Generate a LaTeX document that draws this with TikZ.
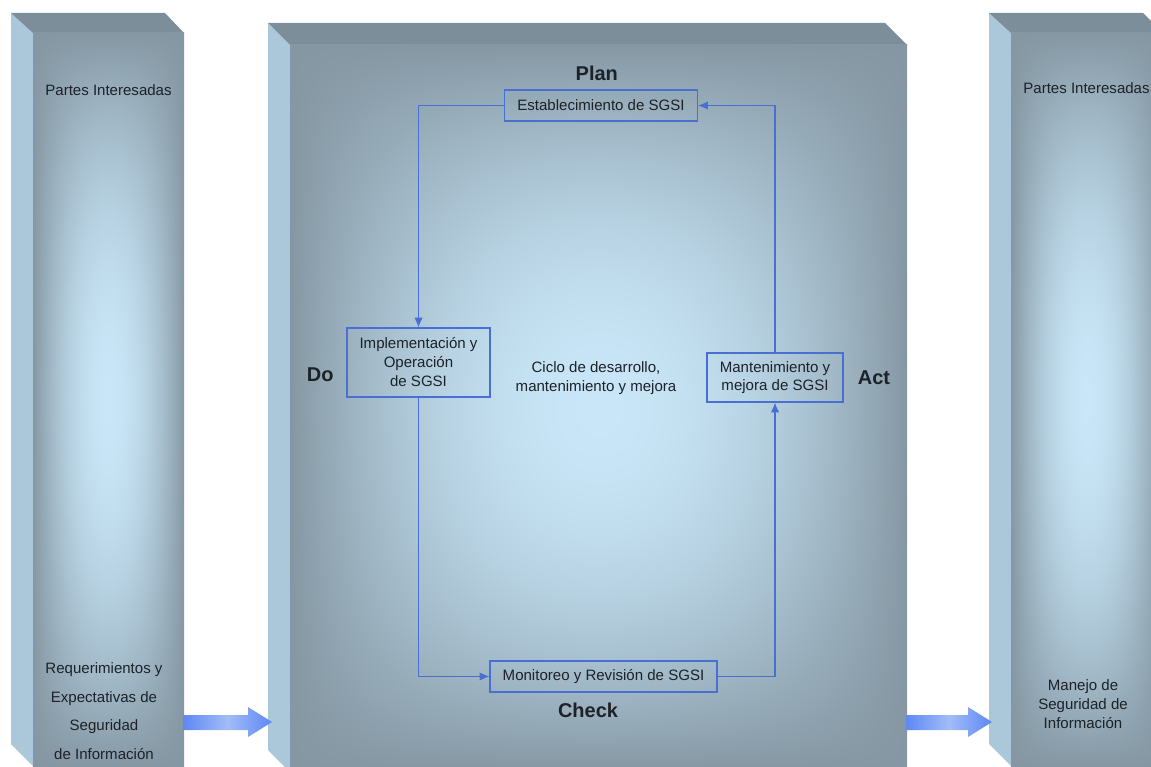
\documentclass[tikz,border=0pt]{standalone}
\usepackage{fontspec}
\setmainfont{Liberation Sans}
\usetikzlibrary{arrows.meta, positioning}

\definecolor{bevelgray}{HTML}{7C8E9A}
\definecolor{sideblue}{HTML}{AAC8D9}
\definecolor{flowblue}{HTML}{4A6FD2}
\definecolor{fatblue}{HTML}{5E88F4}
\definecolor{fatlight}{HTML}{A2BCF8}
\definecolor{inktext}{HTML}{1C2228}

% front of a panel: dark grey-blue rim, light blue centre
\pgfdeclarefunctionalshading{panel glow}{\pgfpoint{-50bp}{-50bp}}{\pgfpoint{50bp}{50bp}}{}{
  25 div dup mul 1 exch sub
  exch 25 div dup mul 1 exch sub
  mul
  dup 0.262 mul 0.522 add exch
  dup 0.310 mul 0.592 add exch
  0.330 mul 0.639 add
}

\begin{document}
\begin{tikzpicture}[x=0.025cm, y=-0.025cm,
    node distance=8pt,
    top face/.style={fill=bevelgray},
    side face/.style={fill=sideblue},
    front face/.style={shading=panel glow},
    stage/.style={draw=flowblue, line width=0.8pt, align=center, inner sep=0pt, text=inktext, font=\fontsize{10.7}{13.2}\selectfont},
    phase/.style={inner sep=0pt, text=inktext, font=\bfseries\fontsize{14.2}{16}\selectfont},
    note/.style={align=center, inner sep=0pt, text=inktext, font=\fontsize{10.7}{13.2}\selectfont},
    flow/.style={draw=flowblue, line width=0.8pt, -{Latex[length=7pt, width=6pt]}},
    fat/.style={left color=fatblue, right color=fatblue, middle color=fatlight}
    ]

    \useasboundingbox (0,0) rectangle (1151,767);
    \clip (0,0) rectangle (1151,767);

    % left panel
    \fill[side face] (11,13) -- (33,33) -- (33,766) -- (11,744) -- cycle;
    \fill[top face] (11,13) -- (165,13) -- (184,33) -- (33,33) -- cycle;
    \shade[front face] (33,33) rectangle (184,766);

    % middle panel
    \fill[side face] (268,23) -- (290,45) -- (290,772) -- (268,750) -- cycle;
    \fill[top face] (268,23) -- (885,23) -- (907,45) -- (290,45) -- cycle;
    \shade[front face] (290,45) rectangle (907,770);

    % right panel
    \fill[side face] (989,13) -- (1011,33) -- (1011,766) -- (989,744) -- cycle;
    \fill[top face] (989,13) -- (1143,13) -- (1163,33) -- (1011,33) -- cycle;
    \shade[front face] (1011,33) rectangle (1163,766);

    \shade[fat] (183,715) -- (248,715) -- (248,707) -- (272,722) -- (248,737) -- (248,730) -- (183,730) -- cycle;
    \shade[fat] (906,715) -- (968,715) -- (968,707) -- (992,722) -- (968,737) -- (968,730) -- (906,730) -- cycle;

    \node[note] (inL) at (108.5,90) {Partes Interesadas};
    \node[note] (inR) at (1086.5,88) {Partes Interesadas};
    \node[note, font=\fontsize{10.7}{20.3}\selectfont] (req) at (104,711) {Requerimientos y\\Expectativas de\\Seguridad\\de Información};
    \node[note, font=\fontsize{10.7}{13.5}\selectfont] (man) at (1083,704) {Manejo de\\Seguridad de\\Información};

    \node[stage, minimum width=4.825cm, minimum height=0.775cm] (est) at (601,105.5) {Establecimiento de SGSI};
    \node[stage, minimum width=3.575cm, minimum height=1.725cm, font=\fontsize{10.7}{13.5}\selectfont] (imp) at (418.5,362.5) {Implementación y\\Operación\\de SGSI};
    \node[stage, minimum width=3.4cm, minimum height=1.225cm] (mej) at (775,377.5) {Mantenimiento y\\mejora de SGSI};
    \node[stage, minimum width=5.675cm, minimum height=0.775cm] (mon) at (603.5,676.5) {Monitoreo y Revisión de SGSI};
    \node[note] (ciclo) at (596,378) {Ciclo de desarrollo,\\mantenimiento y mejora};

    \node[phase, above=6pt of est, xshift=-3pt] (plan) {Plan};
    \node[phase, left=9pt of imp, yshift=-9pt] (do) {Do};
    \node[phase, right=10pt of mej] (act) {Act};
    \node[phase, below=7pt of mon, xshift=-11pt] (check) {Check};

    \draw [flow] (est.west) -| (imp.north);
    \draw [flow] (imp.south) |- (mon.west);
    \draw [flow] (mon.east) -| (mej.south);
    \draw [flow] (mej.north) |- (est.east);

\end{tikzpicture}
\end{document}
